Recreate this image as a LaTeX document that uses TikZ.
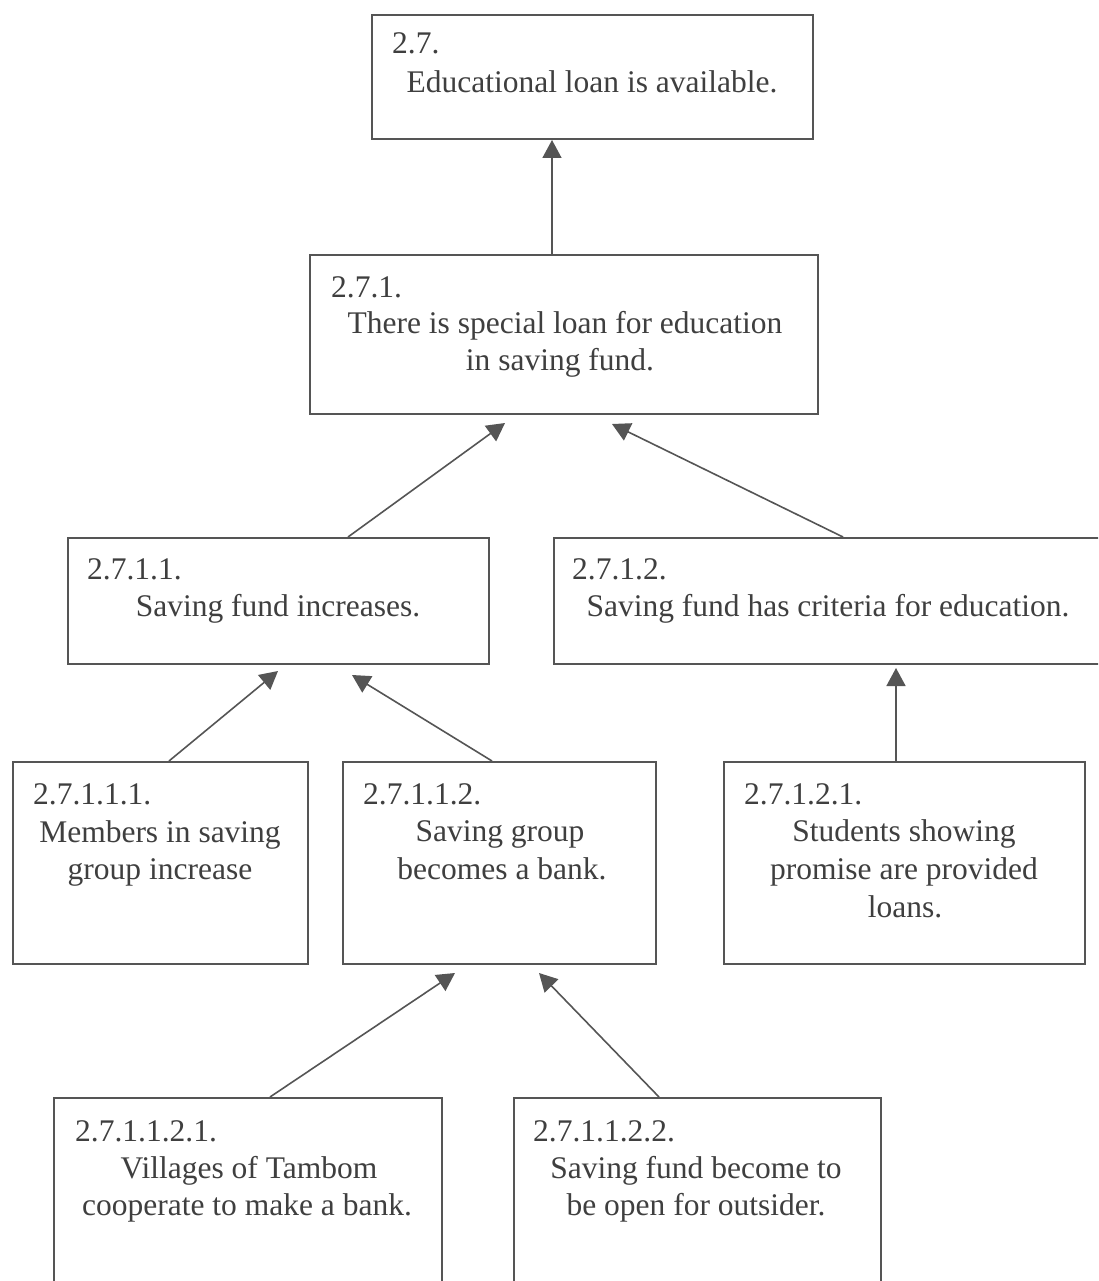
\documentclass[tikz,border=0pt]{standalone}
\usepackage{fontspec}
\setmainfont{Liberation Serif}
\usetikzlibrary{arrows.meta}
\definecolor{ink}{HTML}{3F3F3F}
\definecolor{rule}{HTML}{555555}
\begin{document}
\begin{tikzpicture}[x=1pt,y=-1pt,
  box/.style={draw=rule, line width=1.6pt, inner sep=0pt, anchor=north west},
  txt/.style={text=ink, inner sep=0pt, font=\fontsize{31.5}{37}\selectfont},
  lab/.style={txt, anchor=base west},
  line/.style={txt, anchor=base},
  conn/.style={draw=rule, line width=1.6pt,
    -{Triangle[width=19pt,length=18pt,fill=rule]}}]
% page
\fill[white] (0,0) rectangle (1098,1281);
\useasboundingbox (0,0) rectangle (1098,1281);
\clip (0,0) rectangle (1098,1281);

% boxes
\node[box, minimum width=441pt, minimum height=124pt] (A) at (371,14) {};
\node[box, minimum width=508pt, minimum height=159pt] (B) at (309,254) {};
\node[box, minimum width=421pt, minimum height=126pt] (C) at (67,537) {};
\node[box, minimum width=560pt, minimum height=126pt] (D) at (553,537) {};
\node[box, minimum width=295pt, minimum height=202pt] (E) at (12,761) {};
\node[box, minimum width=313pt, minimum height=202pt] (F) at (342,761) {};
\node[box, minimum width=361pt, minimum height=202pt] (G) at (723,761) {};
\node[box, minimum width=388pt, minimum height=250pt] (H) at (53,1097) {};
\node[box, minimum width=367pt, minimum height=250pt] (I) at (513,1097) {};

% texts
\node[lab] (Alab) at (392,54) {2.7.};
\node[line] (At1) at (592,93) {Educational loan is available.};

\node[lab] (Blab) at (331,297) {2.7.1.};
\node[line] (Bt1) at (565,333) {There is special loan for education};
\node[line] (Bt2) at (560,370) {in saving fund.};

\node[lab] (Clab) at (87,579) {2.7.1.1.};
\node[line] (Ct1) at (278,616) {Saving fund increases.};

\node[lab] (Dlab) at (572,579) {2.7.1.2.};
\node[line] (Dt1) at (828,616) {Saving fund has criteria for education.};

\node[lab] (Elab) at (33,804) {2.7.1.1.1.};
\node[line] (Et1) at (160,842) {Members in saving};
\node[line] (Et2) at (160,879) {group increase};

\node[lab] (Flab) at (363,804) {2.7.1.1.2.};
\node[line] (Ft1) at (500,841) {Saving group};
\node[line] (Ft2) at (502,879) {becomes a bank.};

\node[lab] (Glab) at (744,804) {2.7.1.2.1.};
\node[line] (Gt1) at (904,841) {Students showing};
\node[line] (Gt2) at (904,879) {promise are provided};
\node[line] (Gt3) at (905,917) {loans.};

\node[lab] (Hlab) at (75,1141) {2.7.1.1.2.1.};
\node[line] (Ht1) at (249,1178) {Villages of Tambom};
\node[line] (Ht2) at (247,1215) {cooperate to make a bank.};

\node[lab] (Ilab) at (533,1141) {2.7.1.1.2.2.};
\node[line] (It1) at (696,1178) {Saving fund become to};
\node[line] (It2) at (696,1215) {be open for outsider.};

% connector ends
\coordinate (BA) at (552,254);  \coordinate (BAt) at (552,140);
\coordinate (CB) at (348,537);  \coordinate (CBt) at (505,423);
\coordinate (DB) at (843,537);  \coordinate (DBt) at (612,424);
\coordinate (EC) at (169,761);  \coordinate (ECt) at (278,671);
\coordinate (FC) at (492,761);  \coordinate (FCt) at (352,675);
\coordinate (GD) at (896,761);  \coordinate (GDt) at (896,668);
\coordinate (HF) at (270,1097); \coordinate (HFt) at (455,973);
\coordinate (IF) at (659,1097); \coordinate (IFt) at (539,973);

% connectors
\draw[conn] (BA) -- (BAt);
\draw[conn] (CB) -- (CBt);
\draw[conn] (DB) -- (DBt);
\draw[conn] (EC) -- (ECt);
\draw[conn] (FC) -- (FCt);
\draw[conn] (GD) -- (GDt);
\draw[conn] (HF) -- (HFt);
\draw[conn] (IF) -- (IFt);
\end{tikzpicture}
\end{document}
